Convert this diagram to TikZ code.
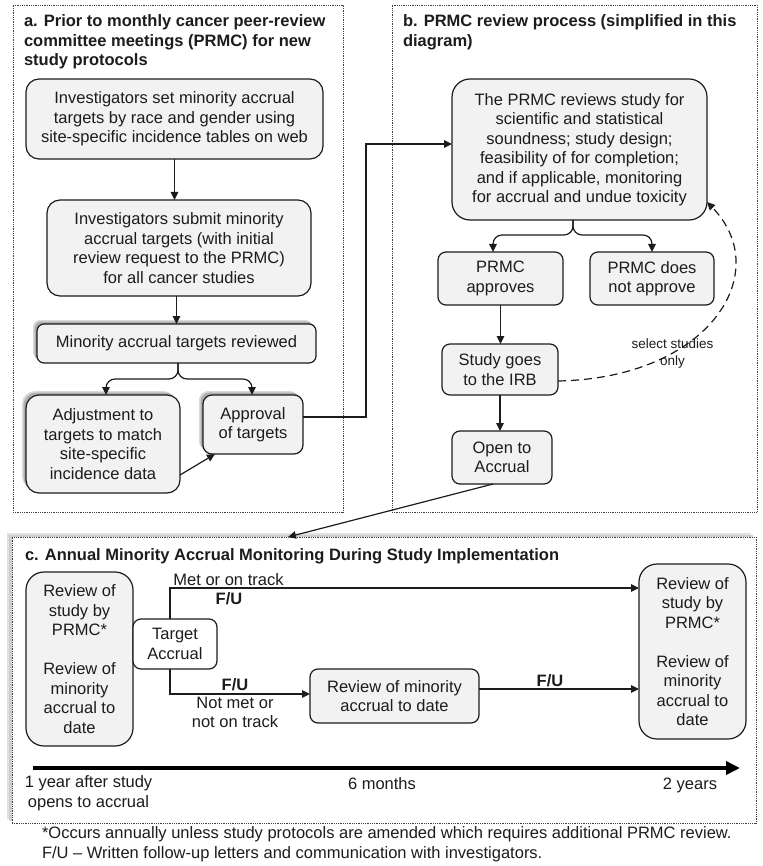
\documentclass[tikz,border=0pt]{standalone}
\usepackage{fontspec}
\setmainfont{Liberation Sans}
\usetikzlibrary{arrows.meta,calc,shadows}
\definecolor{boxfill}{RGB}{242,242,242}
\definecolor{ink}{RGB}{28,28,28}
\definecolor{shadowgray}{RGB}{160,160,160}
\definecolor{panelshadow}{RGB}{205,205,205}
\newcommand{\bodyfont}{\fontsize{16.5}{19.5}\selectfont}
\newcommand{\smallfnt}{\fontsize{13.5}{16.5}\selectfont}
\begin{document}
\begin{tikzpicture}[x=1pt,y=-1pt,
  every node/.style={inner sep=0pt, outer sep=0pt, text=ink, font=\bodyfont},
  box/.style={draw=ink, line width=1.2pt, fill=boxfill, align=center, rounded corners=#1},
  box/.default=8pt,
  panel/.style={draw=black!75, line width=0.7pt, dash pattern=on 0.7pt off 1.1pt},
  shad/.style={general shadow={shadow xshift=-4pt, shadow yshift=4pt, fill=shadowgray!40},
               general shadow={shadow xshift=-2.5pt, shadow yshift=2.5pt, fill=shadowgray!85}},
  arr/.style={draw=ink, line width=1.2pt, -{Triangle[length=8pt,width=7.5pt]}},
  ttl/.style={font=\bodyfont\bfseries, align=left, anchor=north west},
  fu/.style={font=\bodyfont\bfseries},
]
\useasboundingbox (0,0) rectangle (762,866);

% panels
\node[panel, minimum width=330pt, minimum height=507pt] (pa) at (178,258.5) {};
\node[panel, minimum width=365pt, minimum height=507pt] (pb) at (574.5,258.5) {};
\node[panel, fill=white,
      general shadow={shadow xshift=-5pt, shadow yshift=4.5pt, fill=panelshadow!60},
      general shadow={shadow xshift=-3pt, shadow yshift=2.5pt, fill=panelshadow},
      minimum width=744pt, minimum height=286pt] (pc) at (384,680) {};

% titles
\node[ttl] (ta) at (24,15) {a. Prior to monthly cancer peer-review\\committee meetings (PRMC) for new\\study protocols};
\node[ttl] (tb) at (403,15) {b. PRMC review process (simplified in this\\diagram)};
\node[ttl] (tc) at (25,549) {c. Annual Minority Accrual Monitoring During Study Implementation};

% panel a
\node[box=13pt, minimum width=297pt, minimum height=80pt] (A1) at (174.5,119)
  {Investigators set minority accrual\\targets by race and gender using\\site-specific incidence tables on web};
\node[box=13pt, minimum width=264pt, minimum height=96pt] (A2) at (179,248)
  {Investigators submit minority\\accrual targets (with initial\\review request to the PRMC)\\for all cancer studies};
\node[box=7pt, shad, minimum width=279pt, minimum height=39pt] (A3) at (176.5,343.5)
  {Minority accrual targets reviewed};
\node[box=13pt, shad, minimum width=154pt, minimum height=98pt] (A4) at (103,444)
  {Adjustment to\\targets to match\\site-specific\\incidence data};
\node[box=9pt, shad, minimum width=100pt, minimum height=59pt] (A5) at (253,424.5)
  {Approval\\of targets};

% panel b
\node[box=18pt, minimum width=255pt, minimum height=141pt] (B1) at (579.5,149.5)
  {The PRMC reviews study for\\scientific and statistical\\soundness; study design;\\feasibility of for completion;\\and if applicable, monitoring\\for accrual and undue toxicity};
\node[box=8pt, minimum width=125pt, minimum height=53pt] (B2) at (500.5,278.5) {PRMC\\approves};
\node[box=8pt, minimum width=124pt, minimum height=53pt] (B3) at (652,278.5) {PRMC does\\not approve};
\node[box=8pt, minimum width=116pt, minimum height=51pt] (B4) at (500,369.5) {Study goes\\to the IRB};
\node[box=8pt, minimum width=100pt, minimum height=53pt] (B5) at (502,457.5) {Open to\\Accrual};

% panel a connectors
\draw[arr] (A1.south) -- (A1.south |- A2.north);
\draw[arr] (A2.south -| A3.north) -- (A3.north);
\draw[arr, rounded corners=9pt] ([xshift=1.5pt]A3.south) -- ++(0,16) -| ([xshift=3pt]A4.north);
\draw[arr, rounded corners=9pt] ([xshift=1.5pt]A3.south) -- ++(0,16) -| ([xshift=-1pt]A5.north);
\draw[arr] ([yshift=-31pt]A4.east) -- ([xshift=-38pt]A5.south);
\draw[arr] ([yshift=7.5pt]A5.east) -- ++(63,0) |- ([yshift=5.5pt]B1.west);

% panel b connectors
\draw[arr, rounded corners=9pt] ([xshift=-6.5pt]B1.south) -- ++(0,15) -| ([xshift=-7.5pt]B2.north);
\draw[arr, rounded corners=9pt] ([xshift=-6.5pt]B1.south) -- ++(0,15) -| (B3.north);
\draw[arr] (B2.south) -- (B2.south |- B4.north);
\draw[arr] (B4.south) -- (B4.south |- B5.north);
\draw[arr, dash pattern=on 8pt off 5pt] ([yshift=-11.5pt]B4.east)
  .. controls (710,378) and (775,272) .. ([yshift=-52.5pt]B1.east);
\node[font=\smallfnt, align=center, anchor=north] (sel) at (672.5,339) {select studies\\only};

\coordinate (pcin) at (288,537);
\draw[arr] ([xshift=-9pt]B5.south) -- (pcin);

% panel c
\node[box=18pt, minimum width=107pt, minimum height=174pt] (C1) at (79.5,659)
  {Review of\\study by\\PRMC*\\[19.5pt]Review of\\minority\\accrual to\\date};
\node[box=8pt, fill=white, minimum width=84pt, minimum height=50pt] (C2) at (175,644) {Target\\Accrual};
\node[box=8pt, minimum width=169pt, minimum height=54pt] (C3) at (394.5,696) {Review of minority\\accrual to date};
\node[box=18pt, minimum width=107pt, minimum height=175pt] (C5) at (692.5,651.5)
  {Review of\\study by\\PRMC*\\[19.5pt]Review of\\minority\\accrual to\\date};

\draw[arr] ([xshift=-5pt]C2.north) |- ([yshift=63.5pt]C5.west);
\draw[arr] ([xshift=-5pt]C2.south) |- ([yshift=2pt]C3.west);
\draw[arr] ([yshift=7pt]C3.east) -- ([yshift=7pt]C3.east -| C5.west);

\node[anchor=base] (met) at (228.5,585) {Met or on track};
\node[fu, anchor=base] (fu1) at (229,604) {F/U};
\node[fu, anchor=base] (fu2) at (235,690) {F/U};
\node[align=center, anchor=north] (notmet) at (235,697) {Not met or\\not on track};
\node[fu, anchor=base] (fu3) at (550,686) {F/U};

% timeline
\coordinate (t0) at (33,768);
\coordinate (t1) at (740,768);
\draw[draw=black, line width=4pt, -{Triangle[length=14pt,width=13pt]}] (t0) -- (t1);
\node[align=center, anchor=north] (ty1) at (88.5,776) {1 year after study\\opens to accrual};
\node[anchor=base] (ty2) at (382,789) {6 months};
\node[anchor=base] (ty3) at (690,789) {2 years};

% footnote
\node[align=left, anchor=north west] (fn) at (42,827)
  {*Occurs annually unless study protocols are amended which requires additional PRMC review.\\F/U – Written follow-up letters and communication with investigators.};
\end{tikzpicture}
\end{document}
